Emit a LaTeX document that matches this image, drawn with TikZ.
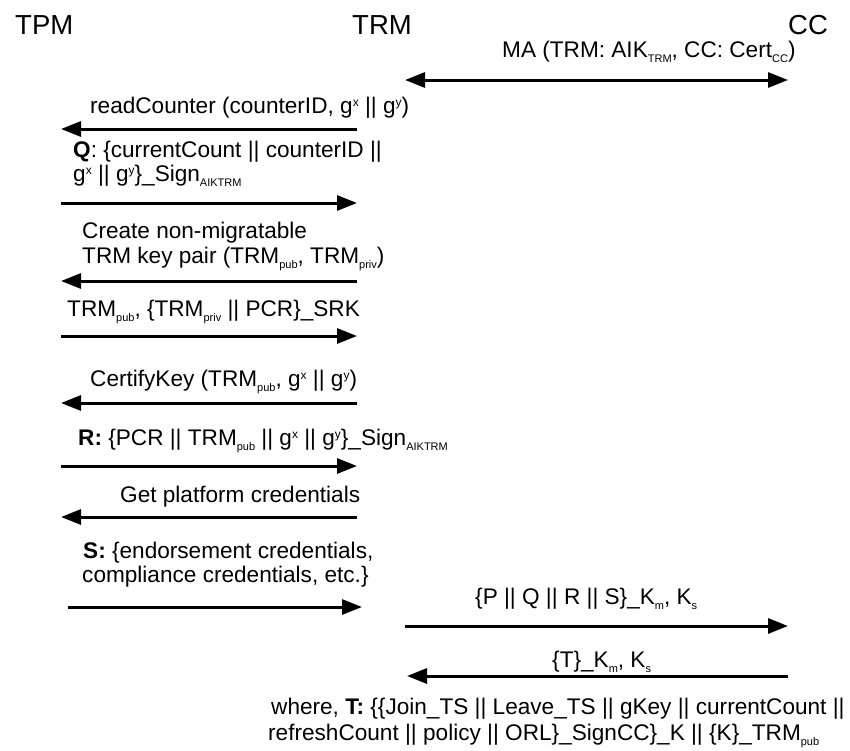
\documentclass[tikz,border=0pt]{standalone}
\usepackage{fontspec}
\setmainfont{Liberation Sans}
\usetikzlibrary{arrows.meta}
% small lowered / raised text for indices
\newcommand\lowtxt[1]{\raisebox{-5.5pt}{\fontsize{11}{11}\selectfont #1}}
\newcommand\uptxt[1]{\raisebox{6.5pt}{\fontsize{12}{12}\selectfont #1}}

\begin{document}
\begin{tikzpicture}[x=1pt,y=-1pt,
  msg/.style={line width=3pt,-{Triangle[length=20pt,width=15pt]}},
  bimsg/.style={line width=3pt,{Triangle[length=20pt,width=15pt]}-{Triangle[length=20pt,width=15pt]}},
  lbl/.style={font=\fontsize{22.6}{25}\selectfont,inner sep=0pt,anchor=base west},
  party/.style={font=\fontsize{27.5}{30}\selectfont,inner sep=0pt,anchor=base west}]
\useasboundingbox (0,0) rectangle (850,750);

% parties
\node[party] (tpm) at (15,34) {TPM};
\node[party] (trm) at (352,34) {TRM};
\node[party] (cc)  at (788,34) {CC};

% message end points
\coordinate (ma-l) at (405,80);   \coordinate (ma-r) at (788,80);
\coordinate (rc-r) at (357,129);  \coordinate (rc-l) at (61,129);
\coordinate (q-l)  at (61,203);   \coordinate (q-r)  at (357,203);
\coordinate (cr-r) at (357,281);  \coordinate (cr-l) at (61,281);
\coordinate (k-l)  at (61,336);   \coordinate (k-r)  at (357,336);
\coordinate (ck-r) at (357,403);  \coordinate (ck-l) at (61,403);
\coordinate (r-l)  at (61,466);   \coordinate (r-r)  at (357,466);
\coordinate (g-r)  at (357,517);  \coordinate (g-l)  at (61,517);
\coordinate (s-l)  at (68,607);   \coordinate (s-r)  at (362,607);
\coordinate (p-l)  at (405,626);  \coordinate (p-r)  at (788,626);
\coordinate (t-r)  at (788,676);  \coordinate (t-l)  at (407,676);

% labels
\node[lbl] (ma) at (502,57) {MA (TRM: AIK\lowtxt{TRM}, CC: Cert\lowtxt{CC})};
\node[lbl] (rc) at (90,113) {readCounter (counterID, g\uptxt{x} || g\uptxt{y})};
\node[lbl] (q1) at (73,157) {\textbf{Q}: \{currentCount || counterID ||};
\node[lbl] (q2) at (73,181) {g\uptxt{x} || g\uptxt{y}\}\_Sign\lowtxt{AIKTRM}};
\node[lbl] (c1) at (82,238) {Create non-migratable};
\node[lbl] (c2) at (82,263) {TRM key pair (TRM\lowtxt{pub}, TRM\lowtxt{priv})};
\node[lbl] (kp) at (67,316) {TRM\lowtxt{pub}, \{TRM\lowtxt{priv} || PCR\}\_SRK};
\node[lbl] (ck) at (90,386) {CertifyKey (TRM\lowtxt{pub}, g\uptxt{x} || g\uptxt{y})};
\node[lbl] (rr) at (78,445) {\textbf{R:} \{PCR || TRM\lowtxt{pub} || g\uptxt{x} || g\uptxt{y}\}\_Sign\lowtxt{AIKTRM}};
\node[lbl] (gp) at (120,502) {Get platform credentials};
\node[lbl] (s1) at (83,558) {\textbf{S:} \{endorsement credentials,};
\node[lbl] (s2) at (82,582) {compliance credentials, etc.\}};
\node[lbl] (pq) at (475,604) {\{P || Q || R || S\}\_K\lowtxt{m}, K\lowtxt{s}};
\node[lbl] (tk) at (552,667) {\{T\}\_K\lowtxt{m}, K\lowtxt{s}};
\node[lbl] (w1) at (271,714) {where, \textbf{T:} \{\{Join\_TS || Leave\_TS || gKey || currentCount ||};
\node[lbl] (w2) at (268,740) {refreshCount || policy || ORL\}\_SignCC\}\_K || \{K\}\_TRM\lowtxt{pub}};

% messages
\draw[bimsg] (ma-l) -- (ma-r);
\draw[msg] (rc-r) -- (rc-l);
\draw[msg] (q-l) -- (q-r);
\draw[msg] (cr-r) -- (cr-l);
\draw[msg] (k-l) -- (k-r);
\draw[msg] (ck-r) -- (ck-l);
\draw[msg] (r-l) -- (r-r);
\draw[msg] (g-r) -- (g-l);
\draw[msg] (s-l) -- (s-r);
\draw[msg] (p-l) -- (p-r);
\draw[msg] (t-r) -- (t-l);
\end{tikzpicture}
\end{document}
